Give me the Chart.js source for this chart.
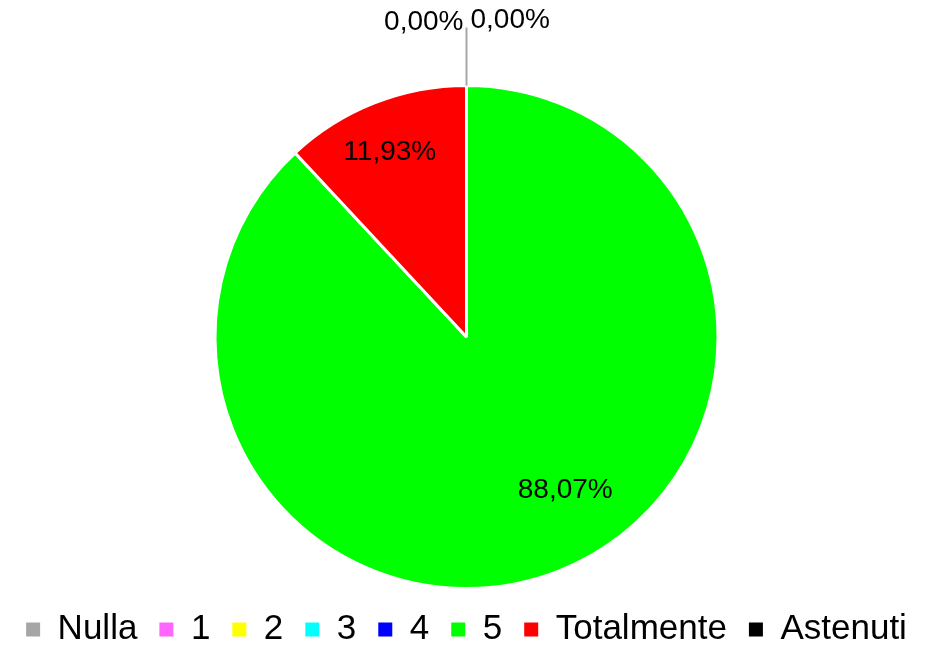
<!DOCTYPE html>
<html>
<head>
<meta charset="utf-8">
<script src="https://cdn.jsdelivr.net/npm/chart.js@4"></script>
<style>
  html, body { margin: 0; padding: 0; background: #ffffff; }
  #wrap { width: 937px; height: 646px; }
</style>
</head>
<body>
<div id="wrap"><canvas id="myChart" width="937" height="646"></canvas></div>
<script>
// categorie e valori (percentuali)
var categorie = ["Nulla", "1", "2", "3", "4", "5", "Totalmente", "Astenuti"];
var valori = [0, 0, 0, 0, 0, 88.07, 11.93, 0];
var colori = ["#A6A6A6", "#FF66FF", "#FFFF00", "#00FFFF", "#0000FF", "#00FF00", "#FF0000", "#000000"];

// spostamento etichette (come fa Excel)
var spostamenti = [[0, 0], [0, 0], [0, 0], [0, 0], [0, 0], [26, -32], [-4, 0], [0, 0]];

function formatta(v) {
  return v.toFixed(2).replace('.', ',') + '%';
}

// Etichette dei dati
const etichette = {
  id: 'etichette',
  afterDatasetsDraw(chart) {
    const ctx = chart.ctx;
    const meta = chart.getDatasetMeta(0);
    ctx.save();
    ctx.font = '28px "Liberation Sans", Arial, sans-serif';
    ctx.fillStyle = '#000000';
    ctx.textBaseline = 'middle';
    var zeriFatti = false;
    meta.data.forEach(function(arc, i) {
      const p = arc.getProps(['x', 'y', 'startAngle', 'endAngle', 'outerRadius'], true);
      const v = valori[i];
      if (v > 0) {
        const mid = (p.startAngle + p.endAngle) / 2;
        const r = p.outerRadius * 0.79;
        ctx.textAlign = 'center';
        ctx.fillText(formatta(v), p.x + Math.cos(mid) * r + spostamenti[i][0], p.y + Math.sin(mid) * r + spostamenti[i][1]);
      } else if (!zeriFatti) {
        // etichette dei valori nulli sopra la torta, con linea guida
        zeriFatti = true;
        const top = p.y - p.outerRadius;
        ctx.strokeStyle = '#A6A6A6';
        ctx.lineWidth = 2;
        ctx.beginPath();
        ctx.moveTo(p.x, top);
        ctx.lineTo(p.x, top - 58);
        ctx.stroke();
        ctx.textAlign = 'right';
        ctx.fillText(formatta(valori[valori.length - 1]), p.x - 3, top - 63);
        ctx.textAlign = 'left';
        ctx.fillText(formatta(v), p.x + 4, top - 65);
      }
    });
    ctx.restore();
  }
};

var data = {
  labels: categorie,
  datasets: [{
    data: valori,
    backgroundColor: colori,
    borderColor: '#FFFFFF',
    borderWidth: 3
  }]
};

const config = {
  type: 'pie',
  data: data,
  plugins: [etichette],
  options: {
    responsive: false,
    animation: false,
    layout: {
      padding: { top: 84, bottom: -11, left: 0, right: 4 }
    },
    plugins: {
      tooltip: { enabled: false },
      legend: {
        position: 'bottom',
        labels: {
          boxWidth: 14,
          boxHeight: 14,
          padding: 22,
          color: '#000000',
          font: { family: '"Liberation Sans", Arial, sans-serif', size: 35 },
          generateLabels: function(chart) {
            var items = Chart.controllers.pie.overrides.plugins.legend.labels.generateLabels(chart);
            items.forEach(function(it) { it.lineWidth = 0; it.strokeStyle = it.fillStyle; });
            return items;
          }
        }
      }
    }
  }
};

const myChart = new Chart(document.getElementById('myChart'), config);
</script>
</body>
</html>
